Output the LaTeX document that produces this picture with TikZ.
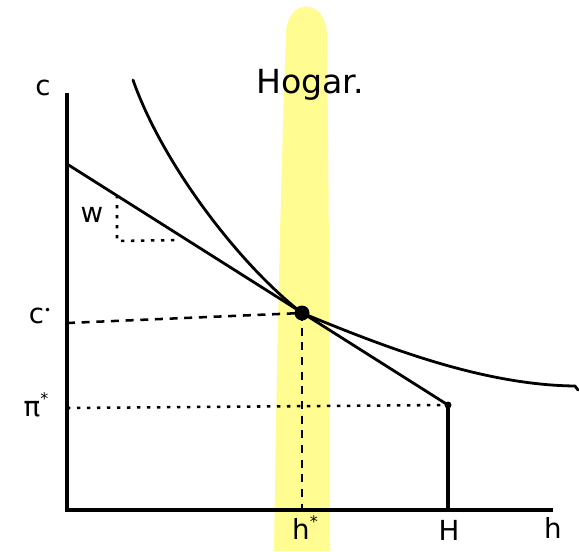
\documentclass[tikz,border=0pt]{standalone}
\usepackage{fontspec}
\setmainfont{DejaVu Sans}
\definecolor{hl}{RGB}{255,252,145}
\begin{document}
\begin{tikzpicture}[x=0.75pt,y=-0.75pt,
  axis/.style={line width=2.4pt,black},
  curve/.style={line width=2.1pt,black,line cap=round,line join=round},
  guide/.style={line width=1.9pt,dash pattern=on 6pt off 5pt},
  guidedot/.style={line width=1.9pt,dash pattern=on 2.5pt off 5pt},
  lbl/.style={font=\huge}]
\useasboundingbox (0,0) rectangle (579,551);
% yellow highlight band
\fill[hl] (286,35) .. controls (286,-3) and (326,-3) .. (327,35)
  .. controls (329,200) and (330,400) .. (330,551) -- (274,551)
  .. controls (276,400) and (280,200) .. (286,35) -- cycle;
% axes
\coordinate (O) at (67,510);
\coordinate (Ytop) at (67,93);
\coordinate (Xend) at (553,510);
\draw[axis] (Ytop) -- (O) -- (Xend);
% budget line
\coordinate (B0) at (67,164);
\coordinate (E) at (448,405);
\coordinate (HB) at (448,510);
\draw[curve] (B0) -- (E);
\draw[axis] (E) -- (HB);
\fill (E) circle (3.5);
% indifference curve
\coordinate (T) at (302,313);
\coordinate (U0) at (133,80);
\coordinate (U1) at (575,386);
\draw[curve] (U0) .. controls (163,165) and (240,265) .. (T)
  .. controls (380,345) and (480,385) .. (U1) -- (578,390);
% guides
\coordinate (Cstar) at (67,323);
\coordinate (Pistar) at (67,408);
\coordinate (Hstar) at (302,510);
\draw[guide] (Cstar) -- (T);
\draw[guidedot] (Pistar) -- (E);
\draw[guide] (T) -- (Hstar);
\fill (T) circle (7.5);
% slope triangle
\coordinate (S1) at (117,195);
\coordinate (S2) at (117,241);
\coordinate (S3) at (180,240);
\draw[guidedot] (S1) -- (S2) -- (S3);
% labels
\node[lbl] (lc) at (43,88) {c};
\node[font=\Huge] (lhog) at (310,85) {Hogar.};
\node[lbl] (lcs) at (40,316) {c\raisebox{0.6ex}{\small•}};
\node[lbl] (lpi) at (36,405) {π\raisebox{0.8ex}{\large*}};
\node[lbl] (lhs) at (305,528) {h\raisebox{0.8ex}{\large*}};
\node[lbl] (lH) at (449,530) {H};
\node[lbl] (lh) at (553,528) {h};
\node[lbl] (lw) at (92,215) {w};
\end{tikzpicture}
\end{document}
